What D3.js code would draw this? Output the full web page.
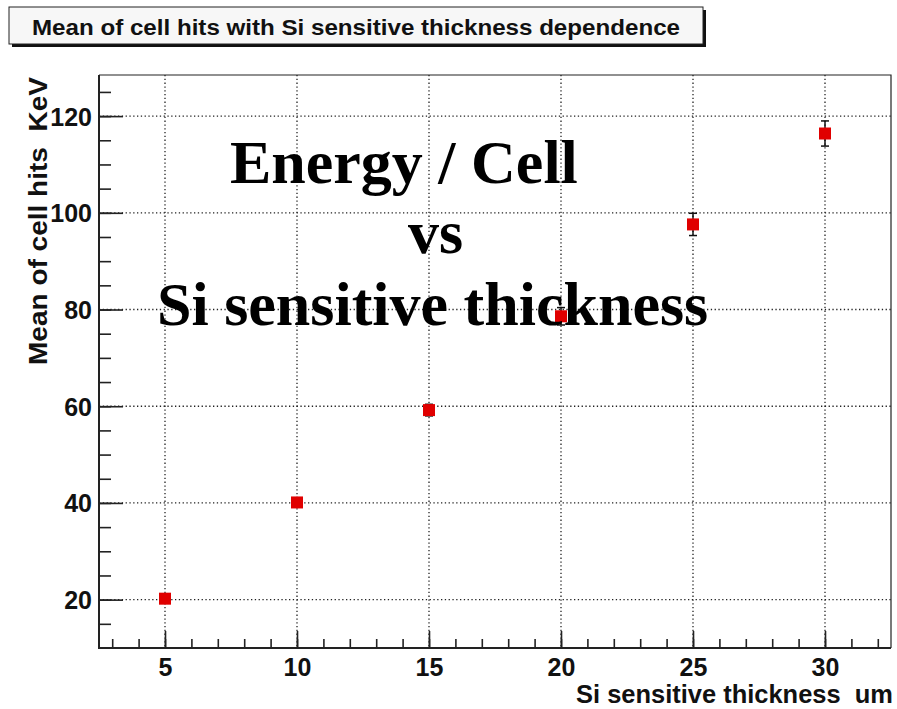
<!DOCTYPE html>
<html>
<head>
<meta charset="utf-8">
<script src="https://cdn.jsdelivr.net/npm/d3@7"></script>
<style>
  html, body { margin: 0; padding: 0; background: #fff; }
  svg { display: block; }
  .lbl { font-family: "Liberation Sans", Arial, Helvetica, sans-serif; font-weight: bold; fill: #111; white-space: pre; }
  .big { font-family: "Liberation Serif", "Times New Roman", serif; font-weight: bold; fill: #000; }
</style>
</head>
<body>
<svg id="chart" width="897" height="709"></svg>
<script>
// mean cell energy per Si thickness point
const thickness = [5, 10, 15, 20, 25, 30];
const meanHits = [20.2, 40.1, 59.2, 78.6, 97.6, 116.4];
const hitErrors = [0.4, 0.8, 1.2, 1.8, 2.3, 2.6];

const xMajorTicks = [5, 10, 15, 20, 25, 30];
const xMinorTicks = d3.range(3, 33);
const yMajorTicks = [20, 40, 60, 80, 100, 120];
const yMinorTicks = d3.range(15, 129, 5);

const titleText = "Mean of cell hits with Si sensitive thickness dependence";
const xTitle = "Si sensitive thickness  um";
const yTitle = "Mean of cell hits  KeV";
const overlayLines = ["Energy / Cell", "vs", "Si sensitive thickness"];

const frame = { left: 99, right: 891, top: 75, bottom: 648 };

const svg = d3.select("#chart");

const xScale = d3.scaleLinear().domain([2.5, 32.5]).range([frame.left, frame.right]);
const yScale = d3.scaleLinear().domain([10, 128.5]).range([frame.bottom, frame.top]);

// title box with drop shadow
const tb = { x: 9, y: 7, w: 694, h: 37 };
svg.append("rect")
  .attr("x", tb.x + 3).attr("y", tb.y + 3)
  .attr("width", tb.w).attr("height", tb.h)
  .attr("fill", "#111");
svg.append("rect")
  .attr("x", tb.x).attr("y", tb.y)
  .attr("width", tb.w).attr("height", tb.h)
  .attr("fill", "#f7f7f7")
  .attr("stroke", "#222")
  .attr("stroke-width", 1);
svg.append("text")
  .attr("class", "lbl")
  .attr("x", 32).attr("y", 35)
  .attr("font-size", 22)
  .attr("textLength", 648)
  .attr("lengthAdjust", "spacingAndGlyphs")
  .text(titleText);

// dotted grid
const grid = svg.append("g").attr("stroke", "#222").attr("stroke-width", 1.3)
  .attr("stroke-dasharray", "1.3,2.5");
grid.selectAll(".gx")
  .data(xMajorTicks)
  .enter()
  .append("line")
  .attr("class", "gx")
  .attr("x1", (d) => xScale(d)).attr("x2", (d) => xScale(d))
  .attr("y1", frame.top).attr("y2", frame.bottom);
grid.selectAll(".gy")
  .data(yMajorTicks)
  .enter()
  .append("line")
  .attr("class", "gy")
  .attr("y1", (d) => yScale(d)).attr("y2", (d) => yScale(d))
  .attr("x1", frame.left).attr("x2", frame.right);

// frame top / right
svg.append("path")
  .attr("d", `M${frame.left},${frame.top}H${frame.right}V${frame.bottom}`)
  .attr("fill", "none")
  .attr("stroke", "#222")
  .attr("stroke-width", 1.2);

// x axis, ticks pointing inward
const xAxisG = svg.append("g").attr("transform", `translate(0,${frame.bottom})`);
xAxisG.append("g")
  .call(d3.axisBottom(xScale).tickValues(xMinorTicks).tickSize(-9).tickFormat(""));
xAxisG.append("g")
  .call(d3.axisBottom(xScale).tickValues(xMajorTicks).tickSize(-17).tickFormat(d3.format("d")));
xAxisG.selectAll(".domain").remove();
xAxisG.selectAll("line").attr("stroke", "#222").attr("stroke-width", 1.6);
xAxisG.selectAll("text")
  .attr("class", "lbl")
  .attr("font-size", 25)
  .attr("y", 28)
  .attr("dy", 0)
  .attr("font-family", null);

// y axis
const yAxisG = svg.append("g").attr("transform", `translate(${frame.left},0)`);
yAxisG.append("g")
  .call(d3.axisLeft(yScale).tickValues(yMinorTicks).tickSize(-12).tickFormat(""));
yAxisG.append("g")
  .call(d3.axisLeft(yScale).tickValues(yMajorTicks).tickSize(-24).tickFormat(d3.format("d")));
yAxisG.selectAll(".domain").remove();
yAxisG.selectAll("line").attr("stroke", "#222").attr("stroke-width", 1.6);
yAxisG.selectAll("text")
  .attr("class", "lbl")
  .attr("font-size", 25)
  .attr("x", -7)
  .attr("dy", "0.36em")
  .attr("font-family", null);

// axis lines
svg.append("path")
  .attr("d", `M${frame.left},${frame.top}V${frame.bottom}H${frame.right}`)
  .attr("fill", "none")
  .attr("stroke", "#222")
  .attr("stroke-width", 2);

// axis titles
svg.append("text")
  .attr("class", "lbl")
  .attr("x", 893).attr("y", 703)
  .attr("text-anchor", "end")
  .attr("font-size", 25)
  .attr("textLength", 317)
  .attr("lengthAdjust", "spacingAndGlyphs")
  .text(xTitle);
svg.append("text")
  .attr("class", "lbl")
  .attr("transform", "translate(47,77) rotate(-90)")
  .attr("text-anchor", "end")
  .attr("font-size", 25)
  .attr("textLength", 288)
  .attr("lengthAdjust", "spacingAndGlyphs")
  .text(yTitle);

// error bars
const errG = svg.append("g").attr("stroke", "#111").attr("stroke-width", 1.5);
thickness.forEach((t, i) => {
  const cx = xScale(t);
  const yHi = yScale(meanHits[i] + hitErrors[i]);
  const yLo = yScale(meanHits[i] - hitErrors[i]);
  errG.append("line").attr("x1", cx).attr("x2", cx).attr("y1", yHi).attr("y2", yLo);
  errG.append("line").attr("x1", cx - 4).attr("x2", cx + 4).attr("y1", yHi).attr("y2", yHi);
  errG.append("line").attr("x1", cx - 4).attr("x2", cx + 4).attr("y1", yLo).attr("y2", yLo);
});

// red square markers
const markerSize = 12;
svg.selectAll(".marker")
  .data(thickness)
  .enter()
  .append("rect")
  .attr("class", "marker")
  .attr("x", (d) => xScale(d) - markerSize / 2)
  .attr("y", (d, i) => yScale(meanHits[i]) - markerSize / 2)
  .attr("width", markerSize)
  .attr("height", markerSize)
  .attr("fill", "#e00000");

// big annotation text over the plot
const overlayPos = [[230, 183], [408, 253], [157, 325]];
svg.selectAll(".big")
  .data(overlayLines)
  .enter()
  .append("text")
  .attr("class", "big")
  .attr("x", (d, i) => overlayPos[i][0])
  .attr("y", (d, i) => overlayPos[i][1])
  .attr("font-size", 62)
  .text((d) => d);
</script>
</body>
</html>
